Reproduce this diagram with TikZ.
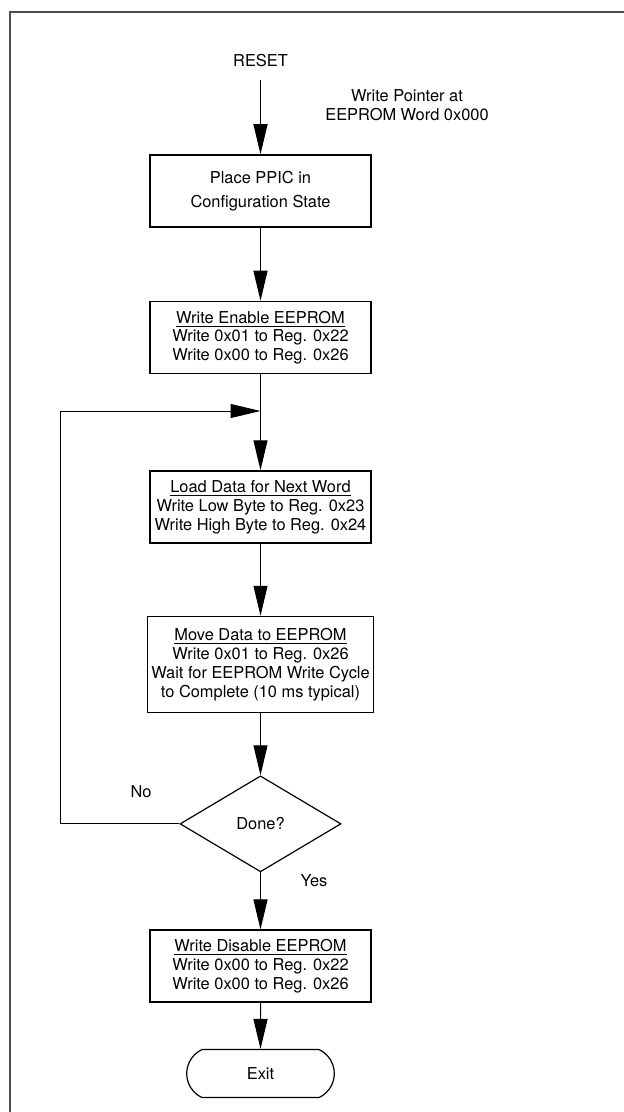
\documentclass[tikz,border=0pt]{standalone}
\usepackage{fontspec}
\setmainfont{TeX Gyre Heros}
\usetikzlibrary{arrows.meta,positioning,shapes.geometric,shapes.misc}
\newcommand{\boxfont}{\fontsize{8.2}{9.4}\selectfont}
\tikzset{
    %Define standard arrow tip
    >={Triangle[length=15pt,width=7pt]},
    %Define style for boxes
    stepbox/.style={
           rectangle,
           draw=black, line width=0.75pt,
           minimum width=110.5pt,
           minimum height=36pt,
           inner sep=2pt,
           font=\boxfont,
           align=center},
    decision/.style={
           diamond,
           draw=black, line width=0.6pt,
           aspect=1.68,
           inner sep=0pt,
           minimum width=80.5pt,
           minimum height=48pt,
           font=\boxfont},
    terminal/.style={
           rounded rectangle,
           rounded rectangle arc length=130,
           draw=black, line width=0.6pt,
           minimum width=80.5pt,
           minimum height=24pt,
           font=\boxfont},
    lbl/.style={
           font=\boxfont,
           align=center},
    % Define arrow style
    pil/.style={
           ->,
           line width=0.5pt},
    frame/.style={
           line width=1pt,
           draw=black!70}
}

\begin{document}
\begin{tikzpicture}[x=0.5pt,y=-0.5pt]
\useasboundingbox (0,0) rectangle (624,1112);
\draw[frame] (10,1112) -- (10,12) -- (624,12);
 %nodes
\node[lbl](reset) at (260.5,61){RESET};
\node[lbl](ptr) at (407,105){Write Pointer at\\EEPROM Word 0x000};
\node[stepbox](config) at (260.5,191){Place PPIC in\\[2.6pt]Configuration State};
\node[stepbox, below=36.5pt of config](enable){\underline{Write Enable EEPROM}\\Write 0x01 to Reg. 0x22\\Write 0x00 to Reg. 0x26};
\node[stepbox, below=48pt of enable](load){\underline{Load Data for Next Word}\\Write Low Byte to Reg. 0x23\\Write High Byte to Reg. 0x24};
\node[stepbox, minimum height=48pt, below=36pt of load](move){\underline{Move Data to EEPROM}\\Write 0x01 to Reg. 0x26\\Wait for EEPROM Write Cycle\\to Complete (10 ms typical)};
\node[decision, below=31pt of move](done){Done?};
\node[stepbox, below=28.5pt of done](disable){\underline{Write Disable EEPROM}\\Write 0x00 to Reg. 0x22\\Write 0x00 to Reg. 0x26};
\node[terminal, below=23pt of disable](exit){Exit};
\node[lbl](no) at (141,792){No};
\node[lbl](yes) at (314,881){Yes};
\coordinate (back) at (60,411);
 %connectors
\draw[pil, shorten <=3pt] (reset) -- (config);
\draw[pil] (config) -- (enable);
\draw[pil] (enable) -- (load);
\draw[pil] (load) -- (move);
\draw[pil] (move) -- (done);
\draw[pil] (done) -- (disable);
\draw[pil] (disable) -- (exit);
\draw[pil] (done.west) -| (back) -- (back -| load.north);
\end{tikzpicture}
\end{document}
